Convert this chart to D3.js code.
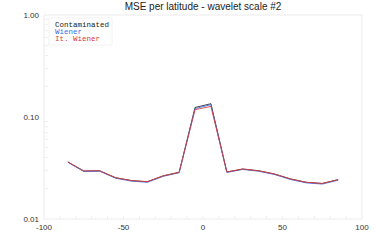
<!DOCTYPE html>
<html>
<head>
<meta charset="utf-8">
<script src="https://cdn.jsdelivr.net/npm/d3@7/dist/d3.min.js"></script>
<style>
  body { margin: 0; background: #fff; }
  svg { display: block; }
</style>
</head>
<body>
<svg id="chart" width="375" height="250"></svg>
<script>
// latitude bins
const latitudes = [-85, -75, -65, -55, -45, -35, -25, -15, -5, 5, 15, 25, 35, 45, 55, 65, 75, 85];

// MSE per series
const contaminated = [0.0362, 0.0295, 0.0297, 0.0254, 0.0238, 0.0232, 0.0265, 0.0287, 0.124, 0.135, 0.0289, 0.0309, 0.0297, 0.0276, 0.0247, 0.0229, 0.0223, 0.0243];
const wiener       = [0.0360, 0.0292, 0.0294, 0.0251, 0.0235, 0.0229, 0.0262, 0.0284, 0.121, 0.132, 0.0286, 0.0306, 0.0294, 0.0273, 0.0244, 0.0226, 0.0220, 0.0240];
const itWiener     = [0.0363, 0.0296, 0.0297, 0.0254, 0.0238, 0.0232, 0.0265, 0.0287, 0.118, 0.127, 0.0289, 0.0309, 0.0297, 0.0276, 0.0247, 0.0229, 0.0223, 0.0243];

const seriesNames = ["Contaminated", "Wiener", "It. Wiener"];
const seriesColors = ["#222222", "#3a6ee8", "#e0383a"];
const xTicks = [-100, -50, 0, 50, 100];
const yTicks = [1, 0.1, 0.01];

const svg = d3.select("#chart");
const margin = { left: 44, right: 13, top: 15, bottom: 31 };
const width = 375, height = 250;

const x = d3.scaleLinear().domain([-100, 100]).range([margin.left, width - margin.right]);
const y = d3.scaleLog().domain([0.01, 1]).range([height - margin.bottom, margin.top]);

// frame
svg.append("rect")
  .attr("x", x(-100)).attr("y", y(1))
  .attr("width", x(100) - x(-100)).attr("height", y(0.01) - y(1))
  .attr("fill", "none").attr("stroke", "#ececec").attr("stroke-width", 1);

// faint minor ticks on the log axis
const minor = [];
[0.01, 0.1].forEach(d => { for (let k = 2; k <= 9; k++) minor.push(d * k); });
svg.append("g").selectAll("line").data(minor).enter().append("line")
  .attr("x1", x(-100)).attr("x2", x(-100) + 4)
  .attr("y1", d => y(d)).attr("y2", d => y(d))
  .attr("stroke", "#eeeeee");

// faint x ticks
svg.append("g").selectAll("line").data(d3.range(-90, 100, 10)).enter().append("line")
  .attr("x1", d => x(d)).attr("x2", d => x(d))
  .attr("y1", y(0.01)).attr("y2", y(0.01) - 3)
  .attr("stroke", "#eeeeee");

// axis labels
svg.append("g").selectAll("text").data(yTicks).enter().append("text")
  .attr("x", x(-100) - 5).attr("y", d => y(d) + 3)
  .attr("text-anchor", "end")
  .attr("font-family", "Liberation Sans, Arial, sans-serif")
  .attr("font-size", 8).attr("fill", "#333")
  .text(d => d3.format(".2f")(d));

svg.append("g").selectAll("text").data(xTicks).enter().append("text")
  .attr("x", d => x(d)).attr("y", y(0.01) + 11)
  .attr("text-anchor", "middle")
  .attr("font-family", "Liberation Sans, Arial, sans-serif")
  .attr("font-size", 8).attr("fill", "#333")
  .text(d => d);

// title
svg.append("text")
  .attr("x", 203).attr("y", 10)
  .attr("text-anchor", "middle")
  .attr("font-family", "Liberation Sans, Arial, sans-serif")
  .attr("font-size", 10).attr("fill", "#222")
  .text("MSE per latitude - wavelet scale #2");

// lines
const line = d3.line().x((d, i) => x(latitudes[i])).y(d => y(d));
[contaminated, wiener, itWiener].forEach((s, i) => {
  svg.append("path")
    .datum(s)
    .attr("d", line)
    .attr("fill", "none")
    .attr("stroke", seriesColors[i])
    .attr("stroke-width", 1)
    .attr("opacity", 0.85);
});

// legend
const legend = svg.append("g");
legend.append("rect")
  .attr("x", 49).attr("y", 18).attr("width", 63).attr("height", 27)
  .attr("fill", "#fff").attr("stroke", "#f2f2f2");
legend.selectAll("text").data(seriesNames).enter().append("text")
  .attr("x", 55).attr("y", (d, i) => 27 + i * 7)
  .attr("font-family", "Liberation Mono, Courier New, monospace")
  .attr("font-size", 7.5)
  .attr("fill", (d, i) => seriesColors[i])
  .text(d => d);
</script>
</body>
</html>
